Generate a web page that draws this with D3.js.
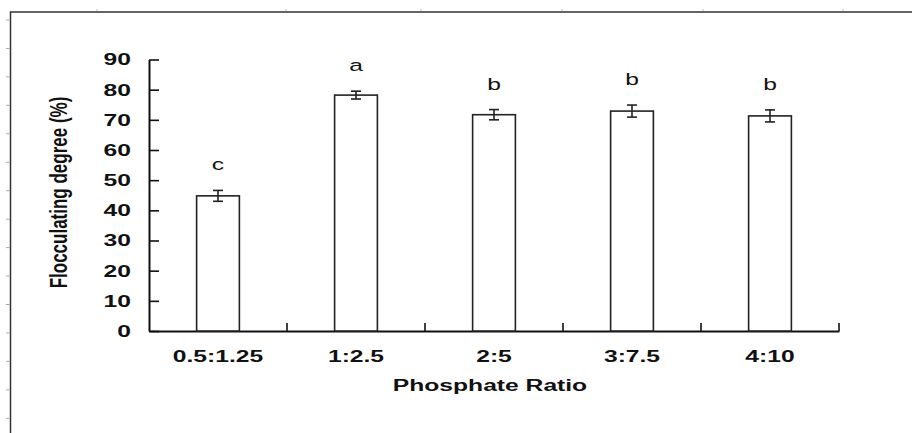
<!DOCTYPE html>
<html>
<head>
<meta charset="utf-8">
<script src="https://cdn.jsdelivr.net/npm/d3@7"></script>
<style>
  body { margin: 0; background: #fff; }
  svg text { font-family: "Liberation Sans", Arial, sans-serif; fill: #111; }
</style>
</head>
<body>
<div id="svg"></div>
<script>
var w = 912;
var h = 433;

var ratios = ['0.5:1.25', '1:2.5', '2:5', '3:7.5', '4:10'];
var degree = [44.8, 78.2, 71.7, 72.9, 71.3];
var errors = [1.8, 1.3, 1.7, 2.0, 2.0];
var letters = ['c', 'a', 'b', 'b', 'b'];
var yTicks = [0, 10, 20, 30, 40, 50, 60, 70, 80, 90];

var data = ratios.map((r, i) => ({ ratio: r, value: degree[i], err: errors[i], letter: letters[i] }));

var border = { top: 59.5, bottom: 102, left: 149, right: 73 };
var stretch = 1.45; // the original picture is squeezed wide

const svg = d3.select('#svg')
              .append('svg')
              .attr('height', h)
              .attr('width', w)

// page frame from the screenshot
svg.append('path')
    .attr('d', `M10.5,${h} V12 H${w}`)
    .attr('fill', 'none')
    .attr('stroke', '#333')
    .attr('stroke-width', 1.5)
svg.selectAll('.ltick')
    .data(d3.range(20, h, 28.45))
    .enter()
      .append('line')
      .attr('x1', 6).attr('x2', 10)
      .attr('y1', d => d).attr('y2', d => d)
      .attr('stroke', '#aaa')
svg.selectAll('.ttick')
    .data([97, 286, 421, 562, 703, 843])
    .enter()
      .append('line')
      .attr('x1', d => d).attr('x2', d => d)
      .attr('y1', 9).attr('y2', 11)
      .attr('stroke', '#bbb')

var x = d3.scaleBand()
          .domain(ratios)
          .range([border.left, w - border.right])
          .paddingInner(0.69)
          .paddingOuter(0.345)

var y = d3.scaleLinear()
          .domain([0, 90])
          .range([h - border.bottom, border.top])

// y axis, ticks pointing inward
var yAxis = svg.append('g')
    .attr('transform', `translate(${border.left}, 0)`)
    .call(d3.axisLeft(y).tickValues(yTicks).tickSize(-10).tickSizeOuter(0))
yAxis.select('.domain').attr('stroke', '#111').attr('stroke-width', 2)
yAxis.selectAll('line').attr('stroke', '#111').attr('stroke-width', 1.6)
yAxis.selectAll('text')
    .attr('x', 0)
    .attr('transform', `translate(-18,0) scale(${stretch},1)`)
    .attr('font-size', 17)
    .attr('font-weight', 'bold')
    .attr('fill', '#111')

// x axis
var xAxis = svg.append('g')
    .attr('transform', `translate(0, ${h - border.bottom})`)
    .call(d3.axisBottom(x).tickSize(0).tickSizeOuter(0))
xAxis.select('.domain').attr('stroke', '#111').attr('stroke-width', 2)
xAxis.selectAll('text')
    .attr('y', 0)
    .attr('dy', 0)
    .attr('transform', `translate(0,31) scale(${stretch},1)`)
    .attr('font-size', 17)
    .attr('font-weight', 'bold')
    .attr('fill', '#111')

// category boundary ticks
xAxis.selectAll('.bound')
    .data(ratios)
    .enter()
      .append('line')
      .attr('x1', d => x(d) + x.bandwidth() / 2 + x.step() / 2)
      .attr('x2', d => x(d) + x.bandwidth() / 2 + x.step() / 2)
      .attr('y1', 0).attr('y2', -8)
      .attr('stroke', '#111')
      .attr('stroke-width', 1.6)

// bars
svg.selectAll('.bar')
    .data(data)
    .enter()
      .append('rect')
      .attr('class', 'bar')
      .attr('x', d => x(d.ratio))
      .attr('width', x.bandwidth())
      .attr('y', d => y(d.value))
      .attr('height', d => y(0) - y(d.value))
      .attr('fill', 'white')
      .attr('stroke', '#222')
      .attr('stroke-width', 1.6)

// error bars
var eb = svg.selectAll('.err')
    .data(data)
    .enter()
      .append('g')
      .attr('transform', d => `translate(${x(d.ratio) + x.bandwidth() / 2}, 0)`)
eb.append('line')
    .attr('y1', d => y(d.value - d.err))
    .attr('y2', d => y(d.value + d.err))
    .attr('stroke', '#222').attr('stroke-width', 1.6)
eb.selectAll('.cap')
    .data(d => [d.value - d.err, d.value + d.err])
    .enter()
      .append('line')
      .attr('x1', -5).attr('x2', 5)
      .attr('y1', v => y(v)).attr('y2', v => y(v))
      .attr('stroke', '#222').attr('stroke-width', 1.6)

// significance letters
svg.selectAll('.letter')
    .data(data)
    .enter()
      .append('text')
      .attr('transform', d => `translate(${x(d.ratio) + x.bandwidth() / 2}, ${y(d.value + d.err) - 20}) scale(${stretch},1)`)
      .attr('text-anchor', 'middle')
      .attr('font-size', 17)
      .attr('fill', '#222')
      .text(d => d.letter)

// axis titles
svg.append('text')
    .attr('transform', `translate(490, 390.5) scale(${stretch},1)`)
    .attr('text-anchor', 'middle')
    .attr('font-size', 17)
    .attr('font-weight', 'bold')
    .text('Phosphate Ratio')

svg.append('text')
    .attr('transform', `translate(66.5, 192.5) scale(${stretch},1) rotate(-90)`)
    .attr('text-anchor', 'middle')
    .attr('font-size', 17)
    .attr('font-weight', 'bold')
    .text('Flocculating degree (%)')
</script>
</body>
</html>
